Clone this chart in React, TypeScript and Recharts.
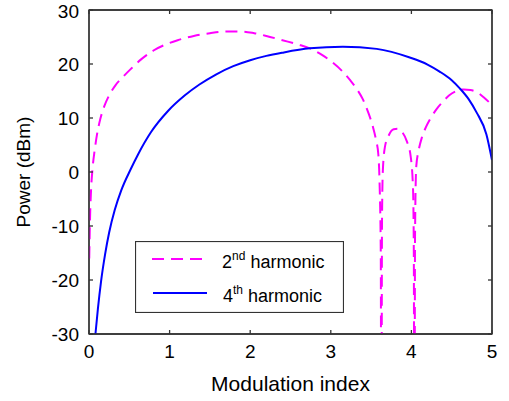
import React from "react";
import {
  LineChart,
  Line,
  XAxis,
  YAxis,
  Legend,
  Label,
  ReferenceArea,
} from "recharts";

// modulation index / power (dBm)
const modIndex2 = [
  0.003, 0.012, 0.025, 0.045, 0.07, 0.1, 0.14, 0.19, 0.25, 0.33, 0.42, 0.52,
  0.65, 0.8, 0.95, 1.1, 1.3, 1.5, 1.7, 1.9, 2.05, 2.2, 2.4, 2.6, 2.74, 2.9,
  3.02, 3.14, 3.24, 3.33, 3.4, 3.47, 3.52, 3.56, 3.59, 3.605, 3.62, 3.625,
  3.63, 3.635, 3.645, 3.67, 3.72, 3.78, 3.83, 3.88, 3.94, 3.99, 4.02, 4.03,
  4.035, 4.04, 4.045, 4.06, 4.09, 4.13, 4.18, 4.24, 4.31, 4.39, 4.47, 4.56,
  4.65, 4.73, 4.81, 4.9, 5.0,
];
const power2 = [
  -16, -9, -3.5, 0.8, 4.0, 7.0, 9.8, 12.2, 14.2, 16.1, 17.6, 19.1,
  20.9, 22.5, 23.6, 24.4, 25.2, 25.7, 26.0, 26.0, 25.7, 25.2, 24.4, 23.6,
  22.9, 21.6, 20.3, 18.7, 17.0, 15.2, 13.4, 10.8, 8.5, 6.0, 3.2, -2, -15, -45,
  -45, -10, 0, 4.5, 6.8, 7.9, 8.0, 7.5, 5.8, 3.0, -3, -15,
  -45, -45, -12, 1.0, 4.0, 6.4, 8.3, 10.0, 11.6, 13.0, 14.2, 15.0,
  15.3, 15.2, 14.8, 13.8, 12.4,
];

const modIndex4 = [
  0.08, 0.11, 0.15, 0.2, 0.25, 0.32, 0.4, 0.52, 0.61, 0.77, 0.98, 1.19, 1.37,
  1.58, 1.79, 2.0, 2.2, 2.4, 2.74, 3.15, 3.57, 3.98, 4.2, 4.35, 4.5, 4.6,
  4.71, 4.81, 4.93, 5.0,
];
const power4 = [
  -30, -25.4, -20.2, -15.2, -11.2, -7.0, -3.4, 0.6, 3.3, 7.4, 11.3, 14.2,
  16.2, 18.1, 19.6, 20.7, 21.5, 22.1, 22.9, 23.2, 22.8, 21.2, 19.9, 18.6,
  17.0, 15.5, 13.5, 11.0, 7.0, 2.2,
];

const xTicks = [0, 1, 2, 3, 4, 5];
const yTicks = [-30, -20, -10, 0, 10, 20, 30];

const second = modIndex2.map((x, i) => ({ x, y: power2[i] }));
const fourth = modIndex4.map((x, i) => ({ x, y: power4[i] }));

const font = "'Liberation Sans', Arial, sans-serif";
const frame = "#333";
const blank = () => "";

const LegendBox = () => (
  <svg width={209} height={72} style={{ display: "block" }}>
    <rect x={0.5} y={0.5} width={208} height={71} fill="#fff" stroke={frame} strokeWidth={1.2} />
    <line x1={17} y1={18} x2={72} y2={18} stroke="#ff00ff" strokeWidth={2} strokeDasharray="12 7" />
    <line x1={18} y1={52} x2={72} y2={52} stroke="#0000ff" strokeWidth={2} />
    <text x={87} y={27} fontSize={18} fontFamily={font} fill="#000">
      2<tspan dy={-8} fontSize={12}>nd</tspan>
      <tspan dy={8} fontSize={18}> harmonic</tspan>
    </text>
    <text x={88} y={61} fontSize={18} fontFamily={font} fill="#000">
      4<tspan dy={-8} fontSize={12}>th</tspan>
      <tspan dy={8} fontSize={18}> harmonic</tspan>
    </text>
  </svg>
);

const App: React.FC = () => {
  const tickStyle = { fill: "#000", fontSize: 19, fontFamily: font };
  return (
    <div style={{ position: "absolute", left: 0, top: 0 }}>
      <LineChart
        width={509}
        height={401}
        margin={{ top: 9, right: 16, left: 0, bottom: 0 }}
      >
        <XAxis
          dataKey="x"
          type="number"
          domain={[0, 5]}
          ticks={xTicks}
          allowDataOverflow
          height={67}
          tickSize={-4}
          tickMargin={15}
          tick={tickStyle}
          stroke={frame}
          strokeWidth={1.3}
        >
          <Label
            value="Modulation index"
            position="insideBottom"
            offset={10}
            style={{ fontSize: 21, fontFamily: font, fill: "#000" }}
          />
        </XAxis>
        <XAxis
          xAxisId="top"
          orientation="top"
          dataKey="x"
          type="number"
          domain={[0, 5]}
          ticks={xTicks}
          allowDataOverflow
          height={1}
          tickSize={-4}
          tickFormatter={blank}
          stroke={frame}
          strokeWidth={1.3}
        />
        <YAxis
          type="number"
          domain={[-30, 30]}
          ticks={yTicks}
          allowDataOverflow
          width={89}
          tickSize={-4}
          tickMargin={14}
          tick={tickStyle}
          stroke={frame}
          strokeWidth={1.3}
        >
          <Label
            content={({ viewBox }: any) => {
              const cx = viewBox.x + 30;
              const cy = viewBox.y + viewBox.height / 2;
              return (
                <text
                  x={cx}
                  y={cy}
                  transform={`rotate(-90, ${cx}, ${cy})`}
                  textAnchor="middle"
                  fontSize={19}
                  fontFamily={font}
                  fill="#000"
                >
                  Power (dBm)
                </text>
              );
            }}
          />
        </YAxis>
        <YAxis
          yAxisId="right"
          orientation="right"
          type="number"
          domain={[-30, 30]}
          ticks={yTicks}
          allowDataOverflow
          width={1}
          tickSize={-4}
          tickFormatter={blank}
          stroke={frame}
          strokeWidth={1.3}
        />
        <ReferenceArea
          x1={0}
          x2={5}
          y1={-30}
          y2={30}
          fill="none"
          stroke={frame}
          strokeWidth={1.3}
        />
        <Legend
          layout="vertical"
          align="center"
          verticalAlign="middle"
          wrapperStyle={{ left: 135, top: 241, width: 209, height: 72 }}
          content={() => <LegendBox />}
        />
        {/* invisible series so the top / right frame axes get drawn */}
        <Line
          data={fourth}
          dataKey="y"
          xAxisId="top"
          yAxisId="right"
          stroke="none"
          legendType="none"
          dot={false}
          activeDot={false}
          isAnimationActive={false}
        />
        <Line
          data={second}
          dataKey="y"
          type="monotoneX"
          stroke="#ff00ff"
          strokeWidth={2}
          strokeDasharray="12 7"
          dot={false}
          activeDot={false}
          isAnimationActive={false}
        />
        <Line
          data={fourth}
          dataKey="y"
          type="monotoneX"
          stroke="#0000ff"
          strokeWidth={2}
          dot={false}
          activeDot={false}
          isAnimationActive={false}
        />
      </LineChart>
    </div>
  );
};

export default App;
